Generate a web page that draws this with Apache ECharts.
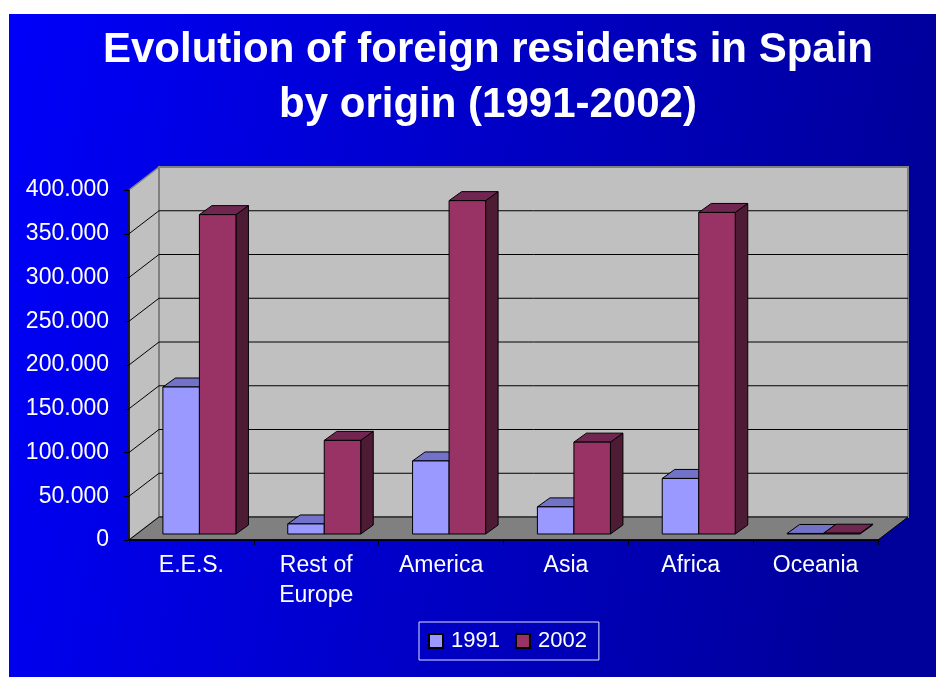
<!DOCTYPE html>
<html>
<head>
<meta charset="utf-8">
<script src="https://cdn.jsdelivr.net/npm/echarts@6/dist/echarts.min.js"></script>
<style>
html,body{margin:0;padding:0;background:#fff;}
#chart{width:936px;height:677px;}
</style>
</head>
<body>
<div id="chart"></div>
<script>
const categories = ['E.E.S.', 'Rest of\nEurope', 'America', 'Asia', 'Africa', 'Oceania'];
const seriesNames = ['1991', '2002'];
const values1991 = [168000, 11500, 83500, 31000, 63500, 600];
const values2002 = [365000, 107000, 381000, 105000, 367500, 900];
const yTicks = [0, 50000, 100000, 150000, 200000, 250000, 300000, 350000, 400000];

const FONT = 'Arial, "Liberation Sans", sans-serif';
// 3D depth: wall offset and bar offsets
const WALL_DX = 30, WALL_DY = -23;
const BAR_OX = 8, BAR_OY = -6;
const BAR_DX = 12.5, BAR_DY = -9;
const BAR_FRAC = 0.2925;

function fmt(v){ return String(v).replace(/\B(?=(\d{3})+(?!\d))/g, '.'); }

function barRenderer(side, colFront, colTop, colSide){
  return function(params, api){
    const ci = api.value(0), v = api.value(1);
    const base = api.coord([ci, 0]);
    const top = api.coord([ci, v]);
    const band = api.size([1, 0])[0];
    const w = band * BAR_FRAC;
    const x0 = base[0] + (side === 0 ? -w : 0) + BAR_OX;
    const x1 = x0 + w;
    const yb = base[1] + BAR_OY;
    const yt = top[1] + BAR_OY;
    const st = {stroke:'#000', lineWidth:1, lineJoin:'round'};
    return {
      type:'group',
      children:[
        {type:'polygon', shape:{points:[[x1,yt],[x1+BAR_DX,yt+BAR_DY],[x1+BAR_DX,yb+BAR_DY],[x1,yb]]}, style:Object.assign({fill:colSide}, st)},
        {type:'polygon', shape:{points:[[x0,yt],[x0+BAR_DX,yt+BAR_DY],[x1+BAR_DX,yt+BAR_DY],[x1,yt]]}, style:Object.assign({fill:colTop}, st)},
        {type:'rect', shape:{x:x0, y:yt, width:w, height:Math.max(yb-yt,0)}, style:Object.assign({fill:colFront}, st)}
      ]
    };
  };
}

function wallRenderer(params, api){
  const cs = params.coordSys;
  const L = cs.x, R = cs.x + cs.width, T = cs.y, B = cs.y + cs.height;
  const ch = [];
  ch.push({type:'polygon', shape:{points:[[L,T],[L+WALL_DX,T+WALL_DY],[L+WALL_DX,B+WALL_DY],[L,B]]},
    style:{fill:'#C0C0C0', stroke:'#808080', lineWidth:1.5}});
  ch.push({type:'rect', shape:{x:L+WALL_DX, y:T+WALL_DY, width:R-L, height:B-T},
    style:{fill:'#C0C0C0', stroke:'#808080', lineWidth:2}});
  ch.push({type:'polygon', shape:{points:[[L,B],[R,B],[R+WALL_DX,B+WALL_DY],[L+WALL_DX,B+WALL_DY]]},
    style:{fill:'#808080', stroke:'#000', lineWidth:1}});
  yTicks.forEach(function(v){
    if (v === 0 || v === yTicks[yTicks.length-1]) return;
    const y = api.coord([0, v])[1];
    ch.push({type:'line', shape:{x1:L, y1:y, x2:L+WALL_DX, y2:y+WALL_DY}, style:{stroke:'#000', lineWidth:1}});
    ch.push({type:'line', shape:{x1:L+WALL_DX, y1:y+WALL_DY, x2:R+WALL_DX, y2:y+WALL_DY}, style:{stroke:'#000', lineWidth:1}});
  });
  return {type:'group', children:ch};
}

const chart = echarts.init(document.getElementById('chart'), null, {renderer:'canvas'});
chart.setOption({
  animation:false,
  backgroundColor:'#fff',
  graphic:[{
    type:'rect', left:9, top:14, z:-100, silent:true,
    shape:{width:927, height:663},
    style:{fill:new echarts.graphic.LinearGradient(0,0,1,0.25,[{offset:0,color:'#0000FA'},{offset:1,color:'#00009A'}])}
  }],
  title:{
    text:'Evolution of foreign residents in Spain\nby origin (1991-2002)',
    left:483, textAlign:'center', top:18,
    textStyle:{color:'#fff', fontFamily:FONT, fontWeight:'bold', fontSize:42, lineHeight:55}
  },
  legend:{
    left:419, top:622,
    padding:[8,12,8,9],
    borderColor:'#E0E0FF', borderWidth:1,
    icon:'rect',
    itemWidth:14, itemHeight:14, itemGap:15,
    textStyle:{color:'#fff', fontFamily:FONT, fontSize:22, padding:[0,0,0,3]},
    data:seriesNames
  },
  grid:{left:129, right:58, top:190, bottom:137, containLabel:false},
  xAxis:{
    type:'category', data:categories, z:10,
    axisLine:{show:true, lineStyle:{color:'#000', width:1.5}},
    axisTick:{show:true, alignWithLabel:false, length:5, lineStyle:{color:'#000'}},
    axisLabel:{color:'#fff', fontFamily:FONT, fontSize:23, lineHeight:30, margin:11, interval:0},
    splitLine:{show:false}
  },
  yAxis:{
    type:'value', min:0, max:400000, interval:50000, z:10,
    axisLine:{show:true, lineStyle:{color:'#000', width:1.5}},
    axisTick:{show:true, length:5, lineStyle:{color:'#000'}},
    axisLabel:{color:'#fff', fontFamily:FONT, fontSize:23, margin:20, formatter:fmt},
    splitLine:{show:false}
  },
  series:[
    {type:'custom', name:'walls', silent:true, z:1, renderItem:wallRenderer, data:[[0,0]], encode:{x:0,y:1}},
    {type:'custom', name:seriesNames[0], z:3,
     itemStyle:{color:'#9999FF', borderColor:'#000', borderWidth:1},
     renderItem:barRenderer(0, '#9999FF', '#7272C8', '#5A5A99'),
     encode:{x:0,y:1},
     data:values1991.map(function(v,i){return [i,v];})},
    {type:'custom', name:seriesNames[1], z:4,
     itemStyle:{color:'#993366', borderColor:'#000', borderWidth:1},
     renderItem:barRenderer(1, '#993366', '#702650', '#4D1B33'),
     encode:{x:0,y:1},
     data:values2002.map(function(v,i){return [i,v];})}
  ]
});
</script>
</body>
</html>
